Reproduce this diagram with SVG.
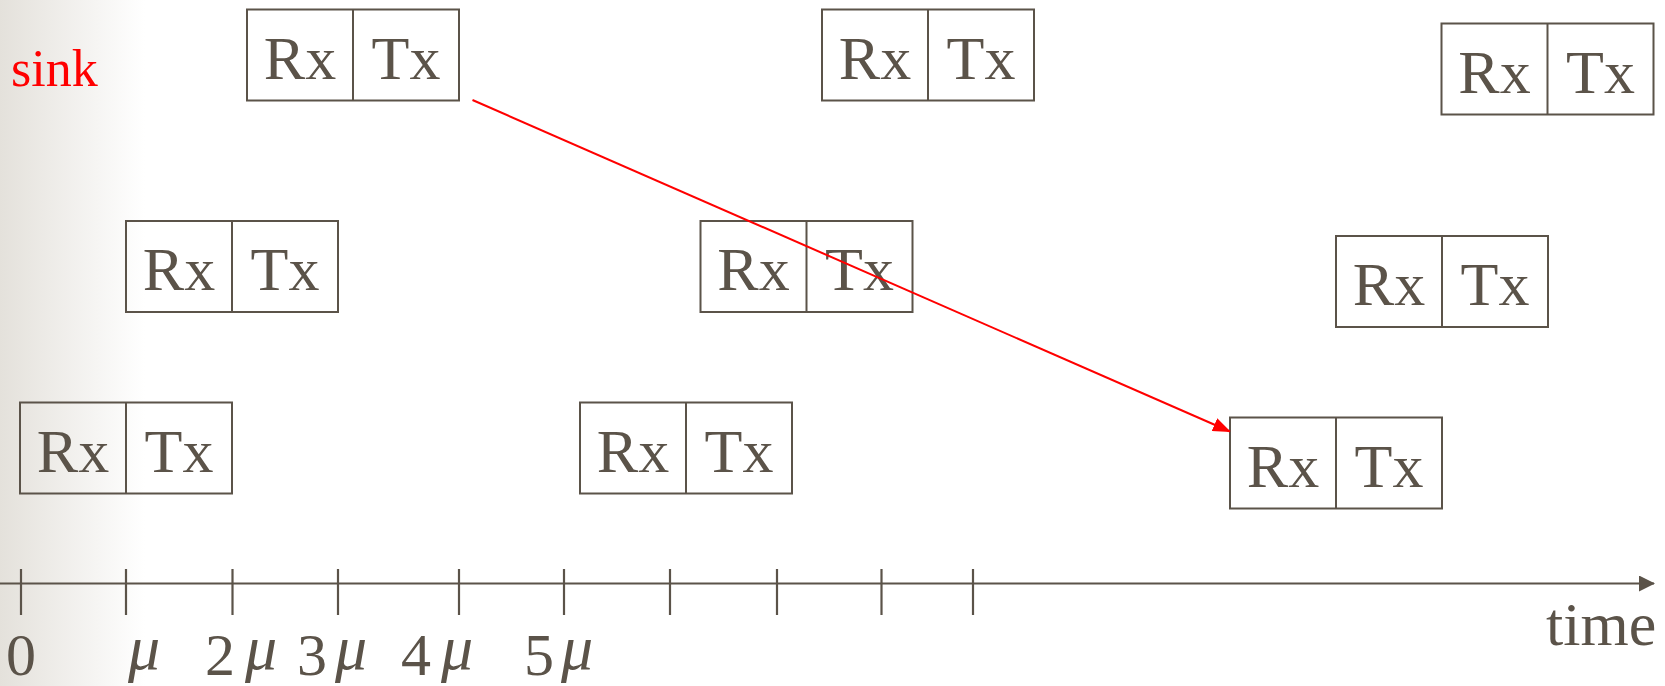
<svg xmlns="http://www.w3.org/2000/svg" width="1665" height="686" viewBox="0 0 1665 686">
  <defs>
    <linearGradient id="bg" x1="0" y1="0" x2="1" y2="0">
      <stop offset="0" stop-color="#e4e1db"/>
      <stop offset="1" stop-color="#ffffff"/>
    </linearGradient>
    <marker id="redhead" viewBox="0 0 18 14" refX="17" refY="7" markerWidth="18" markerHeight="14" markerUnits="userSpaceOnUse" orient="auto">
      <path d="M0,0 L18,7 L0,14 Z" fill="#ff0000"/>
    </marker>
    <marker id="axhead" viewBox="0 0 16 16" refX="15" refY="8" markerWidth="16" markerHeight="16" markerUnits="userSpaceOnUse" orient="auto">
      <path d="M0,0 L16,8 L0,16 Z" fill="#5b5349"/>
    </marker>
  </defs>
  <style>
    .box { fill: none; stroke: #5b5349; stroke-width: 2; }
    .lbl { font-family: "Liberation Serif", "Times New Roman", serif; font-size: 62px; fill: #5b5349; text-anchor: middle; }
    .ax { stroke: #5b5349; stroke-width: 2.2; fill: none; }
    .num { font-family: "Liberation Serif", "Times New Roman", serif; font-size: 60px; fill: #5b5349; }
    .mu { font-family: "Liberation Serif", "Times New Roman", serif; font-size: 64px; font-style: italic; fill: #5b5349; }
  </style>
  <rect x="0" y="0" width="1665" height="686" fill="#ffffff"/>
  <rect x="0" y="0" width="145" height="686" fill="url(#bg)"/>

  <text x="11" y="86" font-family="Liberation Serif, Times New Roman, serif" font-size="52" fill="#ff0000">sink</text>

  <g id="node-a1" transform="translate(247,9.5)">
    <rect class="box" x="0" y="0" width="212" height="91"/>
    <line class="box" x1="106" y1="0" x2="106" y2="91"/>
    <text class="lbl" x="53" y="69">Rx</text>
    <text class="lbl" x="159" y="69">Tx</text>
  </g>
  <g id="node-a2" transform="translate(822,9.5)">
    <rect class="box" x="0" y="0" width="212" height="91"/>
    <line class="box" x1="106" y1="0" x2="106" y2="91"/>
    <text class="lbl" x="53" y="69">Rx</text>
    <text class="lbl" x="159" y="69">Tx</text>
  </g>
  <g id="node-a3" transform="translate(1441.5,23.5)">
    <rect class="box" x="0" y="0" width="212" height="91"/>
    <line class="box" x1="106" y1="0" x2="106" y2="91"/>
    <text class="lbl" x="53" y="69">Rx</text>
    <text class="lbl" x="159" y="69">Tx</text>
  </g>
  <g id="node-b1" transform="translate(126,221)">
    <rect class="box" x="0" y="0" width="212" height="91"/>
    <line class="box" x1="106" y1="0" x2="106" y2="91"/>
    <text class="lbl" x="53" y="69">Rx</text>
    <text class="lbl" x="159" y="69">Tx</text>
  </g>
  <g id="node-b2" transform="translate(700.5,221)">
    <rect class="box" x="0" y="0" width="212" height="91"/>
    <line class="box" x1="106" y1="0" x2="106" y2="91"/>
    <text class="lbl" x="53" y="69">Rx</text>
    <text class="lbl" x="159" y="69">Tx</text>
  </g>
  <g id="node-b3" transform="translate(1336,236)">
    <rect class="box" x="0" y="0" width="212" height="91"/>
    <line class="box" x1="106" y1="0" x2="106" y2="91"/>
    <text class="lbl" x="53" y="69">Rx</text>
    <text class="lbl" x="159" y="69">Tx</text>
  </g>
  <g id="node-c1" transform="translate(20,402.5)">
    <rect class="box" x="0" y="0" width="212" height="91"/>
    <line class="box" x1="106" y1="0" x2="106" y2="91"/>
    <text class="lbl" x="53" y="69">Rx</text>
    <text class="lbl" x="159" y="69">Tx</text>
  </g>
  <g id="node-c2" transform="translate(580,402.5)">
    <rect class="box" x="0" y="0" width="212" height="91"/>
    <line class="box" x1="106" y1="0" x2="106" y2="91"/>
    <text class="lbl" x="53" y="69">Rx</text>
    <text class="lbl" x="159" y="69">Tx</text>
  </g>
  <g id="node-c3" transform="translate(1230,417.5)">
    <rect class="box" x="0" y="0" width="212" height="91"/>
    <line class="box" x1="106" y1="0" x2="106" y2="91"/>
    <text class="lbl" x="53" y="69">Rx</text>
    <text class="lbl" x="159" y="69">Tx</text>
  </g>

  <g id="axis">
    <line class="ax" x1="0" y1="583.5" x2="1654" y2="583.5" marker-end="url(#axhead)"/>
    <g class="ax">
      <line x1="21" y1="569" x2="21" y2="615"/>
      <line x1="126" y1="569" x2="126" y2="615"/>
      <line x1="232.5" y1="569" x2="232.5" y2="615"/>
      <line x1="338" y1="569" x2="338" y2="615"/>
      <line x1="459" y1="569" x2="459" y2="615"/>
      <line x1="564" y1="569" x2="564" y2="615"/>
      <line x1="670" y1="569" x2="670" y2="615"/>
      <line x1="777" y1="569" x2="777" y2="615"/>
      <line x1="881.5" y1="569" x2="881.5" y2="615"/>
      <line x1="973" y1="569" x2="973" y2="615"/>
    </g>
    <text class="num" x="6" y="675">0</text>
    <text class="mu" x="128" y="669">μ</text>
    <text class="num" x="205" y="675">2</text>
    <text class="mu" x="245" y="669">μ</text>
    <text class="num" x="297" y="675">3</text>
    <text class="mu" x="335" y="669">μ</text>
    <text class="num" x="401" y="675">4</text>
    <text class="mu" x="441" y="669">μ</text>
    <text class="num" x="524" y="675">5</text>
    <text class="mu" x="561" y="669">μ</text>
    <text x="1546" y="645" font-family="Liberation Serif, Times New Roman, serif" font-size="62" fill="#5b5349">time</text>
  </g>

  <g id="connectors">
    <line x1="472.5" y1="100" x2="1230" y2="431.5" stroke="#ff0000" stroke-width="2" marker-end="url(#redhead)"/>
  </g>
</svg>
